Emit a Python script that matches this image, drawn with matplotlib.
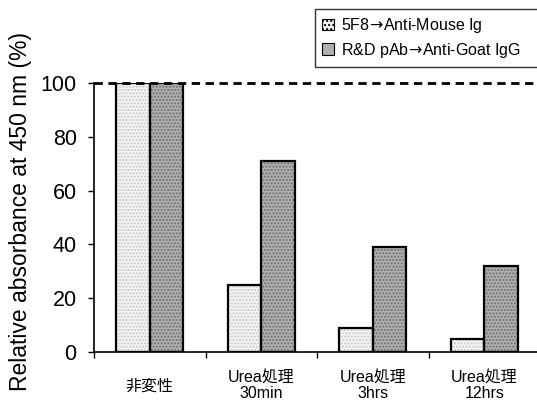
import numpy as np
import matplotlib.pyplot as plt
from matplotlib.patches import Patch
from matplotlib.transforms import blended_transform_factory

plt.rcParams['font.family'] = ['Liberation Sans', 'Noto Sans CJK JP', 'DejaVu Sans']

categories = ['非変性', 'Urea処理\n30min', 'Urea処理\n3hrs', 'Urea処理\n12hrs']
mouse_vals = [100, 25, 9, 5]
goat_vals = [100, 71, 39, 32]
series_names = ['5F8$\\!\\rightarrow\\!$Anti-Mouse Ig', 'R&D pAb$\\!\\rightarrow\\!$Anti-Goat IgG']
yticks = [0, 20, 40, 60, 80, 100]

fig = plt.figure(figsize=(5.37, 4.01), dpi=100)
ax = fig.add_axes([94 / 537, 1 - 352 / 401, 446 / 537, 269 / 401])

x = np.arange(len(categories))
w = 0.3

# stippled fill first, black outline on top
for vals, off, fc, hc in [(mouse_vals, -w / 2, '#f4f4f4', '#c8c8c8'),
                          (goat_vals, w / 2, '#b0b0b0', '#6e6e6e')]:
    ax.bar(x + off, vals, w, color=fc, edgecolor=hc, linewidth=0, hatch='.....', zorder=2)
    ax.bar(x + off, vals, w, fill=False, edgecolor='black', linewidth=1.6, zorder=3)

ax.axhline(100, color='black', linestyle=(0, (3, 2)), linewidth=2, zorder=4, clip_on=False)

ax.set_xlim(-0.5, len(categories) - 0.5)
ax.set_ylim(0, 100)
ax.spines['top'].set_visible(False)
ax.spines['right'].set_visible(False)
ax.spines['left'].set_linewidth(1.2)
ax.spines['bottom'].set_linewidth(1.2)

ax.set_yticks(yticks)
ax.tick_params(axis='y', direction='out', length=4.5, width=1, labelsize=15.5, pad=8)
ax.set_xticks(np.arange(len(categories) + 1) - 0.5)
ax.set_xticklabels([])
ax.tick_params(axis='x', direction='out', length=4, width=1)

trans = blended_transform_factory(ax.transData, fig.transFigure)
for xi, lab in zip(x, categories):
    ax.text(xi, 1 - 386 / 401, lab, transform=trans, ha='center', va='center',
            fontsize=11.5, linespacing=1.05, multialignment='center')

ax.set_ylabel('Relative absorbance at 450 nm (%)', fontsize=16.5)
ax.yaxis.set_label_coords(-0.14, 0.524)

handles = [Patch(facecolor='#f4f4f4', edgecolor='black', hatch='....', linewidth=0.8),
           Patch(facecolor='#b0b0b0', edgecolor='black', linewidth=0.8)]
leg = fig.legend(handles, series_names, loc='upper left',
                 bbox_to_anchor=(315 / 537, 1 - 65 / 401, 235 / 537, 56 / 401), mode='expand',
                 fontsize=11.5, frameon=True, fancybox=False, edgecolor='black',
                 handlelength=0.75, handleheight=0.75, handletextpad=0.4, borderpad=0.45,
                 labelspacing=0.35, borderaxespad=0)
leg.get_frame().set_linewidth(1.0)

fig.savefig('out.png', dpi=100)
